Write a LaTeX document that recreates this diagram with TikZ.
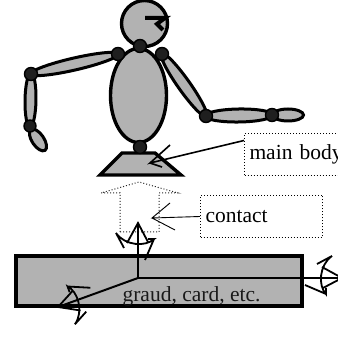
\documentclass[tikz,border=0pt]{standalone}
\usepackage{fontspec}
\setmainfont{Liberation Serif}
\usetikzlibrary{shapes.geometric}
\definecolor{partgray}{gray}{0.7}
\definecolor{jointgray}{gray}{0.12}
\tikzset{
	part/.style={draw=black, fill=partgray, line width=3.4pt, inner sep=0pt},
	limb/.style={ellipse, draw=black, fill=partgray, line width=3pt, inner sep=0pt, minimum height=12pt},
	joint/.style={circle, draw=black, fill=jointgray, line width=1.4pt, inner sep=0pt, minimum size=13pt},
	tag/.style={draw, dotted, line width=1pt, anchor=north west, inner xsep=5pt, align=left, font=\fontsize{21.5}{24}\selectfont},
	axis/.style={line width=2pt},
	rotsym/.pic={
		\draw[line width=1.8pt] (-20,11) -- (0,0) -- (-19,-10);
		\draw[line width=1.8pt] (-25,14) -- (-10,22) .. controls (-23,13) and (-24,-8) .. (-16,-16) -- (-16,-10) (-16,-16) -- (-37,-7);
	}
}

\begin{document}
\begin{tikzpicture}[x=1pt, y=1pt]
		\useasboundingbox (0,0) rectangle (337,342);
		% joint positions
		\coordinate (neck) at (140,296);
		\coordinate (lsh) at (118,288);
		\coordinate (rsh) at (162,288);
		\coordinate (lel) at (31,268);
		\coordinate (lwr) at (30,216);
		\coordinate (rel) at (206,226);
		\coordinate (rwr) at (272,227);
		\coordinate (hip) at (140,195);

		% arms
		\path (lsh) -- (lel) node[limb, midway, sloped, minimum width=90pt] (luparm) {};
		\path (lel) -- (lwr) node[limb, midway, sloped, minimum width=54pt, minimum height=11pt] (lfarm) {};
		\node[limb, rotate=-56, minimum width=25pt, minimum height=12pt] (lhand) at (38,202) {};
		\path (rsh) -- (rel) node[limb, midway, sloped, minimum width=78pt] (ruparm) {};
		\path (rel) -- (rwr) node[limb, midway, sloped, minimum width=68pt, minimum height=13pt] (rfarm) {};
		\node[limb, minimum width=31pt, minimum height=12pt] (rhand) at (288,227) {};

		% torso, head, stand
		\node[part, ellipse, minimum width=56pt, minimum height=94pt] (torso) at (138.5,246.5) {};
		\node[part, circle, minimum size=46pt] (head) at (144.5,318.5) {};
		\draw[line width=4pt] (145,324) -- (165,324) -- (157,318) -- (163,312);
		\filldraw[part] (122,189) -- (155,189) -- (181,167) -- (100,167) -- cycle;
		\coordinate (bodytip) at (150,179);

		% joints on top
		\node[joint] (j-neck) at (neck) {};
		\node[joint] (j-lsh) at (lsh) {};
		\node[joint] (j-rsh) at (rsh) {};
		\node[joint] (j-lel) at (lel) {};
		\node[joint, minimum size=12pt] (j-lwr) at (lwr) {};
		\node[joint] (j-rel) at (rel) {};
		\node[joint] (j-rwr) at (rwr) {};
		\node[joint] (j-hip) at (hip) {};

		% labels
		\node[tag, text width=100pt, minimum height=42pt] (mainbody) at (244,209) {main body};
		\draw[line width=1.6pt] ([yshift=14pt]mainbody.west) -- (bodytip) -- ++(20,18) (bodytip) -- ++(12,-4);
		\node[tag, text width=112pt, minimum height=42pt] (contact) at (200,147) {contact};
		\coordinate (contip) at (152,124);
		\draw[line width=0.9pt] (contact.west) -- (contip) -- ++(18,15) (contip) -- ++(23,-12);

		% contact arrow
		\draw[dotted, line width=1pt, gray!30!black] (120,110) -- (120,149) -- (101,149) -- (139,160) -- (178,149) -- (159,149) -- (159,110) -- cycle;

		% ground block
		\node[part, line width=4pt, minimum width=286pt, minimum height=50pt, anchor=south west] (ground) at (13.5,33.5) {};
		\node[anchor=base, inner sep=0pt, font=\fontsize{21.5}{24}\selectfont, gray!20!black] (gtext) at (191.5,40) {graud, card, etc.};

		% frame on the ground
		\coordinate (o) at (138,64);
		\coordinate (zt) at (138,119);
		\coordinate (xt) at (342,64);
		\coordinate (yt) at (58,35);
		\draw[axis] (o) -- (zt) pic[rotate=90] {rotsym};
		\draw[axis] (o) -- (xt) pic {rotsym};
		\draw[axis] (o) -- (yt) pic[rotate=200] {rotsym};
	\end{tikzpicture}
\end{document}
